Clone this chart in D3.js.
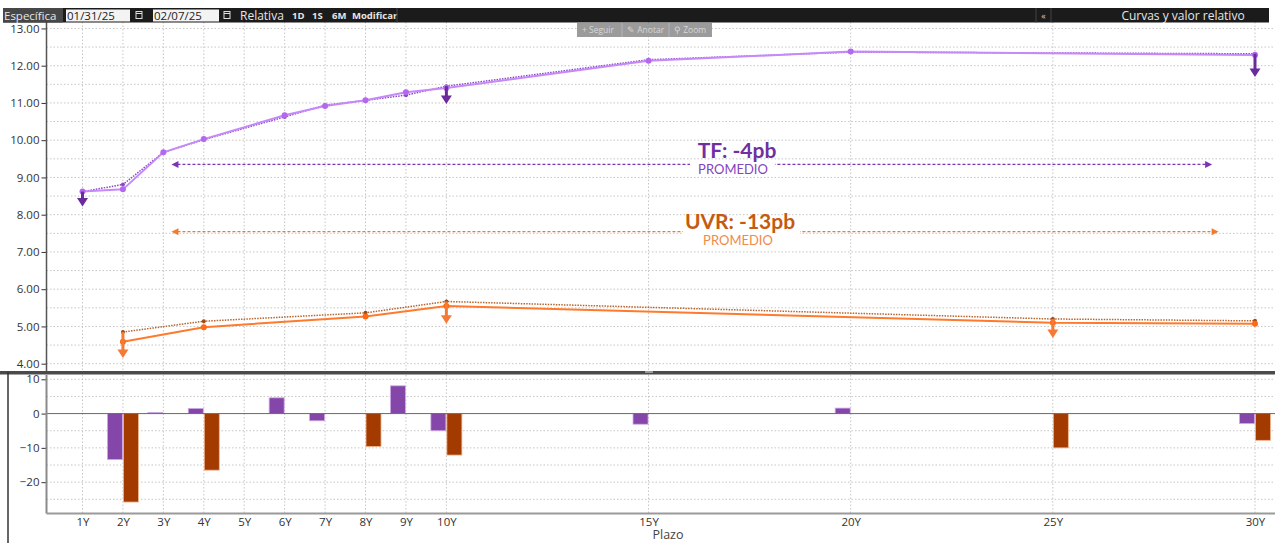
<!DOCTYPE html>
<html><head><meta charset="utf-8">
<script src="https://cdn.jsdelivr.net/npm/d3@7"></script>
<style>body{margin:0;background:#fff;} svg{display:block;font-family:"Open Sans",sans-serif;}</style>
</head><body><svg id="c" width="1275" height="543"></svg>
<script>
// ---------- data ----------
const tenorTicks = [1,2,3,4,5,6,7,8,9,10,15,20,25,30];
const tfTenors   = [1,2,3,4,6,7,8,9,10,15,20,30];
const tfCurrent  = [8.62,8.68,9.675,10.03,10.67,10.92,11.07,11.29,11.40,12.13,12.38,12.29];
const tfPrevious = [8.62,8.81,9.672,10.015,10.625,10.94,11.07,11.21,11.45,12.16,12.365,12.32];
const uvrTenors   = [2,4,8,10,25,30];
const uvrCurrent  = [4.59,4.98,5.27,5.55,5.10,5.07];
const uvrPrevious = [4.85,5.14,5.365,5.67,5.20,5.15];
const tfBarTenors  = [2,3,4,6,7,9,10,15,20,30];
const tfBarValues  = [-13.4,0.3,1.5,4.6,-2.1,8.1,-5.0,-3.1,1.6,-2.9];
const uvrBarTenors = [2,4,8,10,25,30];
const uvrBarValues = [-25.8,-16.5,-9.6,-12.1,-10.0,-7.8];
const upperTicks = [4,5,6,7,8,9,10,11,12,13];
const lowerTicks = [-20,-10,0,10];
const tfArrowTenors = [1,10,30], tfArrowFrom = [8.62,11.45,12.32], tfArrowTo = [8.22,10.97,11.70];
const uvrArrowTenors = [2,10,25], uvrArrowFrom = [4.85,5.67,5.20], uvrArrowTo = [4.15,5.07,4.69];
const tfAvgLabel = "TF: -4pb", uvrAvgLabel = "UVR: -13pb", avgSub = "PROMEDIO";
const tfAvgLevel = 9.35, uvrAvgLevel = 7.545;
const avgStart = 3.2, tfAvgEnd = 28.94, uvrAvgEnd = 29.1;
const xTitle = "Plazo";

// ---------- setup ----------
const svg = d3.select("#c");
svg.append("rect").attr("width",1275).attr("height",543).attr("fill","#fff");
const x  = d3.scaleLinear().domain([1,30]).range([82.5,1255]);
const yU = d3.scaleLinear().domain([4,13]).range([363.7,28.45]);
const yL = d3.scaleLinear().domain([-25,10]).range([499.3,379.3]);
const L = 46.5, R = 1275, UT = 22, UB = 371, LT = 375, LB = 513.5;
const grid = "#c6c6c6";

const defs = svg.append("defs");
defs.append("clipPath").attr("id","cu").append("rect").attr("x",L).attr("y",UT).attr("width",R-L).attr("height",UB-UT);

// ---------- gridlines ----------
const g = svg.append("g");
g.selectAll(".hu").data(d3.range(4,13.01,0.5)).join("line")
  .attr("x1",L).attr("x2",R).attr("y1",d=>yU(d)).attr("y2",d=>yU(d))
  .attr("stroke",grid).attr("stroke-dasharray","1.5,2");
g.selectAll(".hl").data(d3.range(-25,10.01,5).filter(d=>d!==0)).join("line")
  .attr("x1",L).attr("x2",R).attr("y1",d=>yL(d)).attr("y2",d=>yL(d))
  .attr("stroke",grid).attr("stroke-dasharray","1.5,2");
g.selectAll(".vu").data(tenorTicks).join("line")
  .attr("x1",d=>x(d)).attr("x2",d=>x(d)).attr("y1",UT).attr("y2",UB)
  .attr("stroke",grid).attr("stroke-dasharray","1.5,2");
g.selectAll(".vl").data(tenorTicks).join("line")
  .attr("x1",d=>x(d)).attr("x2",d=>x(d)).attr("y1",LT).attr("y2",LB)
  .attr("stroke",grid).attr("stroke-dasharray","1.5,2");

// ---------- average annotations ----------
function avgLine(level, x0, x1, color){
  const yy = yU(level);
  svg.append("line").attr("x1",x(x0)+6).attr("x2",x(x1)-6).attr("y1",yy).attr("y2",yy)
    .attr("stroke",color).attr("stroke-width",1.2).attr("stroke-dasharray","3,2");
  svg.append("path").attr("d",`M${x(x0)},${yy}L${x(x0)+7},${yy-3.5}L${x(x0)+7},${yy+3.5}Z`).attr("fill",color);
  svg.append("path").attr("d",`M${x(x1)},${yy}L${x(x1)-7},${yy-3.5}L${x(x1)-7},${yy+3.5}Z`).attr("fill",color);
}
avgLine(tfAvgLevel, avgStart, tfAvgEnd, "#7a35b5");
avgLine(uvrAvgLevel, avgStart, uvrAvgEnd, "#f07a32");
svg.append("rect").attr("x",690).attr("y",yU(tfAvgLevel)-3).attr("width",85).attr("height",6).attr("fill","#fff");
svg.append("rect").attr("x",683).attr("y",yU(uvrAvgLevel)-4).attr("width",117).attr("height",8).attr("fill","#fff");
svg.append("text").attr("x",737).attr("y",158).attr("text-anchor","middle")
  .attr("font-family","Lato").attr("font-weight","bold").attr("font-size",21).attr("fill","#7030a0").text(tfAvgLabel);
svg.append("text").attr("x",733).attr("y",174).attr("text-anchor","middle")
  .attr("font-family","Lato").attr("font-size",13).attr("fill","#8444bd").text(avgSub);
svg.append("text").attr("x",740).attr("y",228.5).attr("text-anchor","middle")
  .attr("font-family","Lato").attr("font-weight","bold").attr("font-size",21).attr("fill","#c55a11").text(uvrAvgLabel);
svg.append("text").attr("x",738).attr("y",245).attr("text-anchor","middle")
  .attr("font-family","Lato").attr("font-size",13).attr("fill","#f08a4a").text(avgSub);

// ---------- curves ----------
const cu = svg.append("g").attr("clip-path","url(#cu)");
const line = d3.line().x(d=>x(d[0])).y(d=>yU(d[1]));
function curve(tenors, vals, stroke, w, dash, mfill, mr){
  const pts = tenors.map((t,i)=>[t,vals[i]]);
  cu.append("path").attr("d",line(pts)).attr("fill","none").attr("stroke",stroke)
    .attr("stroke-width",w).attr("stroke-dasharray",dash);
  cu.selectAll(null).data(pts).join("circle").attr("cx",d=>x(d[0])).attr("cy",d=>yU(d[1]))
    .attr("r",mr).attr("fill",mfill);
}
curve(tfTenors, tfPrevious, "#8a45c4", 1.5, "1.5,1.2", "#8a45c4", 2);
curve(tfTenors, tfCurrent, "#c689fa", 2, null, "#b467ef", 3);
curve(uvrTenors, uvrPrevious, "#b8652e", 1.5, "1.5,1.2", "#9c4a18", 2);
curve(uvrTenors, uvrCurrent, "#ff7a2c", 2, null, "#ff6a14", 3);

// ---------- arrows ----------
function arrows(tenors, from, to, color){
  tenors.forEach((t,i)=>{
    const xx = x(t), y1 = yU(from[i]), y2 = yU(to[i]);
    svg.append("line").attr("x1",xx).attr("x2",xx).attr("y1",y1).attr("y2",y2-7)
      .attr("stroke",color).attr("stroke-width",3);
    svg.append("path").attr("d",`M${xx-5.5},${y2-8.5}L${xx+5.5},${y2-8.5}L${xx},${y2}Z`).attr("fill",color);
  });
}
arrows(tfArrowTenors, tfArrowFrom, tfArrowTo, "#6b2a9e");
arrows(uvrArrowTenors, uvrArrowFrom, uvrArrowTo, "#f47a36");

// ---------- bars ----------
const bw = 15.5;
svg.selectAll(".bt").data(tfBarTenors.map((t,i)=>[t,tfBarValues[i]])).join("rect")
  .attr("x",d=>x(d[0])-bw).attr("width",bw-0.5)
  .attr("y",d=>yL(Math.max(0,d[1]))).attr("height",d=>Math.abs(yL(d[1])-yL(0)))
  .attr("fill","#8446a8").attr("stroke","#cfa9e6").attr("stroke-width",0.8);
svg.selectAll(".bu").data(uvrBarTenors.map((t,i)=>[t,uvrBarValues[i]])).join("rect")
  .attr("x",d=>x(d[0])+0.5).attr("width",bw-0.5)
  .attr("y",d=>yL(Math.max(0,d[1]))).attr("height",d=>Math.abs(yL(d[1])-yL(0)))
  .attr("fill","#a33a00").attr("stroke","#f1b590").attr("stroke-width",0.8);
svg.append("line").attr("x1",L).attr("x2",R).attr("y1",yL(0)).attr("y2",yL(0)).attr("stroke","#6a6a6a").attr("stroke-width",1);

// ---------- axes ----------
const axU = svg.append("g").attr("transform",`translate(${L},0)`)
  .call(d3.axisLeft(yU).tickValues(upperTicks).tickFormat(d3.format(".2f")).tickSize(5).tickPadding(2));
const axL = svg.append("g").attr("transform",`translate(${L},0)`)
  .call(d3.axisLeft(yL).tickValues(lowerTicks).tickFormat(d3.format("d")).tickSize(5).tickPadding(2));
[axU,axL].forEach(a=>{
  a.select(".domain").remove();
  a.selectAll("text").attr("font-family","Open Sans").attr("font-size",11.5).attr("fill","#333");
  a.selectAll(".tick line").attr("stroke","#333");
});
const axX = svg.append("g").attr("transform",`translate(0,${LB})`)
  .call(d3.axisBottom(x).tickValues(tenorTicks).tickFormat(d=>d+"Y").tickSize(0).tickPadding(4));
axX.select(".domain").remove();
axX.selectAll("text").attr("font-family","Open Sans").attr("font-size",11.5).attr("fill","#333");
svg.append("text").attr("x",668).attr("y",538.5).attr("text-anchor","middle")
  .attr("font-family","Open Sans").attr("font-size",12.5).attr("fill","#444").text(xTitle);

// axis lines & frames
svg.append("line").attr("x1",L).attr("x2",L).attr("y1",UT).attr("y2",UB).attr("stroke","#555").attr("stroke-width",1.5);
svg.append("line").attr("x1",L).attr("x2",L).attr("y1",LT).attr("y2",LB).attr("stroke","#8a8a8a").attr("stroke-width",2);
svg.append("line").attr("x1",L).attr("x2",R).attr("y1",LB).attr("y2",LB).attr("stroke","#9a9a9a").attr("stroke-width",2);
svg.append("rect").attr("x",0).attr("y",371).attr("width",1275).attr("height",3.5).attr("fill","#4a4a4a");
svg.append("rect").attr("x",645).attr("y",371).attr("width",8).attr("height",2).attr("fill","#9a9a9a");
svg.append("line").attr("x1",8).attr("x2",8).attr("y1",372).attr("y2",543).attr("stroke","#333").attr("stroke-width",1.5);

// ---------- toolbar ----------
const tb = svg.append("g").attr("font-family","Open Sans").attr("font-size",11);
tb.append("rect").attr("x",3).attr("y",8).attr("width",1266).attr("height",14.5).attr("fill","#1b1b1b");
tb.append("rect").attr("x",3).attr("y",8).attr("width",60).attr("height",14.5).attr("fill","#474747");
tb.append("text").attr("x",4).attr("y",19.5).attr("fill","#e6e6e6").attr("font-size",11.5).text("Específica");
tb.append("rect").attr("x",66).attr("y",9.5).attr("width",64).attr("height",12).attr("fill","#f3f3f3");
tb.append("text").attr("x",67).attr("y",19.5).attr("fill","#222").attr("font-size",11.5).text("01/31/25");
tb.append("rect").attr("x",153).attr("y",9.5).attr("width",66).attr("height",12).attr("fill","#f3f3f3");
tb.append("text").attr("x",154).attr("y",19.5).attr("fill","#222").attr("font-size",11.5).text("02/07/25");
[136,224].forEach(cx=>{
  tb.append("rect").attr("x",cx).attr("y",11.5).attr("width",6).attr("height",7).attr("fill","none").attr("stroke","#ddd").attr("stroke-width",1);
  tb.append("line").attr("x1",cx).attr("x2",cx+6).attr("y1",13.5).attr("y2",13.5).attr("stroke","#ddd");
});
tb.append("text").attr("x",240).attr("y",19.5).attr("fill","#e6e6e6").attr("font-size",12).text("Relativa");
[["1D",292],["1S",312],["6M",332],["Modificar",352]].forEach(([t,xx])=>
  tb.append("text").attr("x",xx).attr("y",19).attr("fill","#e6e6e6").attr("font-size",9.5).attr("font-weight","bold").text(t));
tb.append("line").attr("x1",397).attr("x2",397).attr("y1",8).attr("y2",22.5).attr("stroke","#444");
tb.append("line").attr("x1",1036).attr("x2",1036).attr("y1",8).attr("y2",22.5).attr("stroke","#444");
tb.append("line").attr("x1",1051).attr("x2",1051).attr("y1",8).attr("y2",22.5).attr("stroke","#444");
tb.append("text").attr("x",1043.5).attr("y",19).attr("text-anchor","middle").attr("fill","#ccc").attr("font-size",9).text("«");
tb.append("text").attr("x",1183).attr("y",19.5).attr("text-anchor","middle").attr("fill","#e6e6e6").attr("font-size",12).text("Curvas y valor relativo");

// floating tools
const ft = svg.append("g").attr("font-family","Open Sans").attr("font-size",8.5).attr("fill","#d8d8d8");
ft.append("rect").attr("x",577).attr("y",23).attr("width",135).attr("height",14).attr("fill","#9b9b9b");
ft.append("line").attr("x1",622).attr("x2",622).attr("y1",23).attr("y2",37).attr("stroke","#b5b5b5");
ft.append("line").attr("x1",669).attr("x2",669).attr("y1",23).attr("y2",37).attr("stroke","#b5b5b5");
ft.append("text").attr("x",582).attr("y",33).text("+ Seguir");
ft.append("text").attr("x",627).attr("y",33).text("✎ Anotar");
ft.append("text").attr("x",674).attr("y",33).text("⚲ Zoom");
</script></body></html>
